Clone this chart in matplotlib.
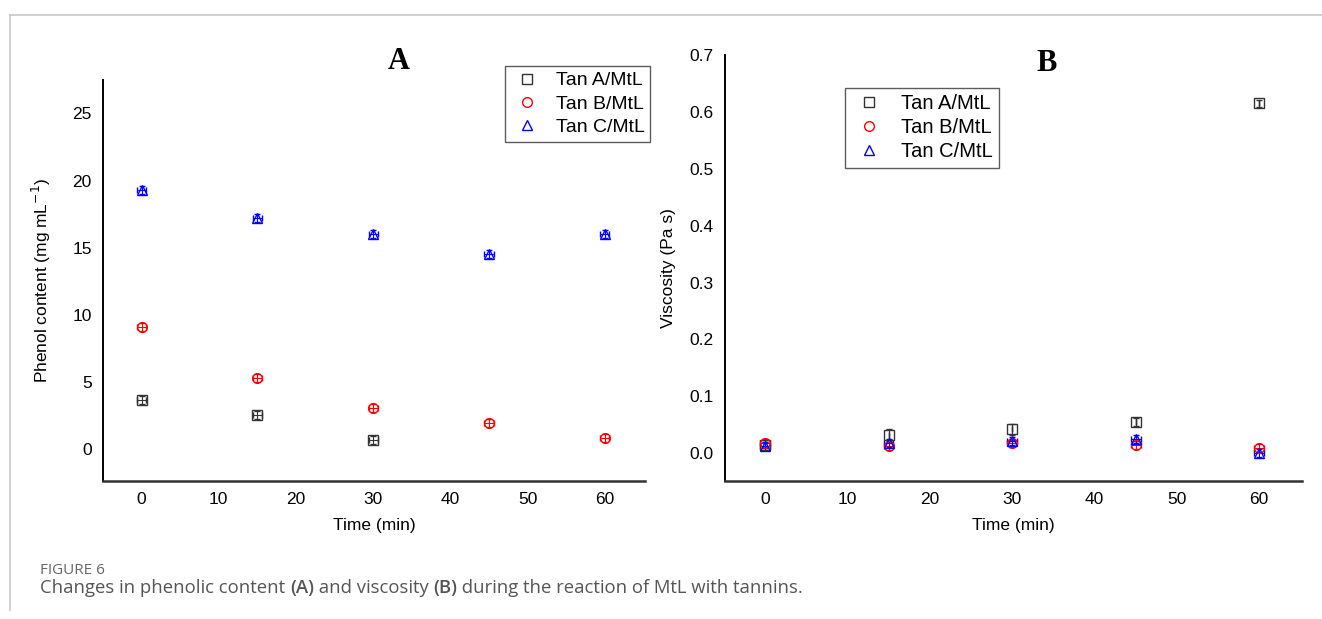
import numpy as np
import matplotlib.pyplot as plt
from matplotlib.lines import Line2D

plt.rcParams['font.family'] = ['Liberation Sans', 'DejaVu Sans']

time_min = [0, 15, 30, 45, 60]

# panel A: phenol content (mg/mL)
phenolA_t = [0, 15, 30]
phenolA = [3.65, 2.5, 0.67]
phenolB = [9.1, 5.3, 3.06, 1.94, 0.82]
phenolC = [19.3, 17.2, 16.0, 14.55, 16.0]
phenol_err = [0.3, 0.3, 0.3, 0.3, 0.3]

# panel B: viscosity (Pa s)
viscA = [0.014, 0.032, 0.042, 0.054, 0.615]
viscB = [0.018, 0.012, 0.017, 0.014, 0.009]
viscC = [0.012, 0.018, 0.022, 0.025, 0.0]
visc_errA = [0.005, 0.01, 0.01, 0.007, 0.007]
visc_err = [0.007, 0.007, 0.007, 0.007, 0.007]

labels = ['Tan A/MtL', 'Tan B/MtL', 'Tan C/MtL']
colors = ['#333333', 'red', 'blue']
markers = ['s', 'o', '^']

fig = plt.figure(figsize=(13.22, 6.19), dpi=100)

# outer frame lines (article style)
fig.add_artist(Line2D([0.0076, 1.0], [0.976, 0.976], color='#c8c8c8', lw=1.2))
fig.add_artist(Line2D([0.0076, 0.0076], [0.015, 0.976], color='#c8c8c8', lw=1.2))


def draw_series(ax, x, y, err, color, marker, xerr):
    ax.errorbar(x, y, yerr=err, xerr=xerr, fmt=marker, color=color, mfc='none',
                mec=color, ms=7, mew=1.0, elinewidth=0.8, capsize=2.5, capthick=0.8,
                ecolor=color)


def style_axes(ax):
    for s in ['top', 'right']:
        ax.spines[s].set_visible(False)
    ax.spines['left'].set_linewidth(1.4)
    ax.spines['bottom'].set_linewidth(1.8)
    ax.spines['bottom'].set_color('#333333')
    ax.tick_params(length=0, labelsize=12.5, pad=8)
    ax.set_xticks([0, 10, 20, 30, 40, 50, 60])
    ax.set_xlabel('Time (min)', fontsize=12.5, labelpad=8)


def legend_handles():
    return [Line2D([], [], ls='none', marker=m, color=c, mfc='none', ms=7, mew=1.0)
            for m, c in zip(markers, colors)]


def make_legend(ax, loc, anchor, size, hlen, spacing):
    leg = ax.legend(legend_handles(), labels, loc=loc, bbox_to_anchor=anchor,
                    fontsize=size, frameon=True, fancybox=False, edgecolor='#333333',
                    borderpad=0.3, handletextpad=0.7, labelspacing=spacing,
                    borderaxespad=0, handlelength=hlen)
    leg.get_frame().set_linewidth(1.0)
    return leg


# ---- Panel A
axA = fig.add_axes([0.0779, 0.2229, 0.41, 0.648])
draw_series(axA, phenolA_t, phenolA, phenol_err[:3], colors[0], markers[0], 0.6)
draw_series(axA, time_min, phenolB, phenol_err, colors[1], markers[1], 0.6)
draw_series(axA, time_min, phenolC, phenol_err, colors[2], markers[2], 0.6)
axA.set_xlim(-5, 65.2)
axA.set_ylim(-2.4, 27.5)
axA.set_yticks([0, 5, 10, 15, 20, 25])
style_axes(axA)
axA.set_ylabel('Phenol content (mg mL$^{-1}$)', fontsize=12.5, labelpad=14)
axA.text(0.546, 1.045, 'A', transform=axA.transAxes, ha='center', va='center',
         fontsize=22, fontweight='bold', family='Liberation Serif')
make_legend(axA, 'upper right', (1.01, 1.035), 14, 1.6, 0.3)

# ---- Panel B
axB = fig.add_axes([0.5484, 0.2229, 0.4365, 0.688])
draw_series(axB, time_min, viscA, visc_errA, colors[0], markers[0], 0.0)
draw_series(axB, time_min, viscB, visc_err, colors[1], markers[1], 0.6)
draw_series(axB, time_min, viscC, visc_err, colors[2], markers[2], 0.6)
axB.set_xlim(-4.85, 65.2)
axB.set_ylim(-0.049, 0.7)
axB.set_yticks([0.0, 0.1, 0.2, 0.3, 0.4, 0.5, 0.6, 0.7])
axB.set_yticklabels(['0.0', '0.1', '0.2', '0.3', '0.4', '0.5', '0.6', '0.7'])
style_axes(axB)
axB.set_ylabel('Viscosity (Pa s)', fontsize=12.5, labelpad=10)
axB.text(0.558, 0.98, 'B', transform=axB.transAxes, ha='center', va='center',
         fontsize=22, fontweight='bold', family='Liberation Serif')
make_legend(axB, 'upper left', (0.208, 0.922), 14.5, 1.8, 0.25)

# ---- caption
fig.text(0.0303, 0.079, 'FIGURE 6', fontsize=11, color='#666666', family='Open Sans',
         va='center', ha='left')
cap = [('Changes in phenolic content ', 'normal'), ('(A)', 'semibold'),
       (' and viscosity ', 'normal'), ('(B)', 'semibold'),
       (' during the reaction of MtL with tannins.', 'normal')]
renderer = fig.canvas.get_renderer()
xpos = 0.0303
for txt, w in cap:
    t = fig.text(xpos, 0.050, txt, fontsize=13.3, color='#555555', family='Open Sans',
                 fontweight=w, va='center', ha='left')
    bb = t.get_window_extent(renderer=renderer)
    xpos += bb.width / fig.bbox.width

fig.savefig('out.png', dpi=100)
